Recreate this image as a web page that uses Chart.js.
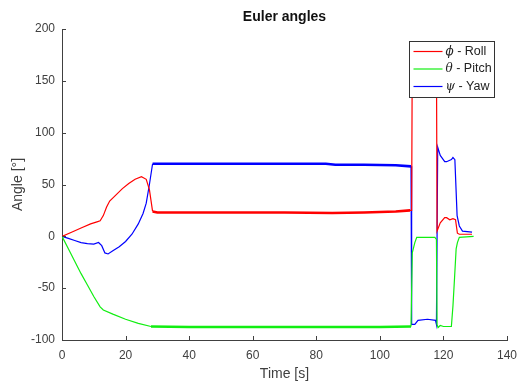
<!DOCTYPE html>
<html lang="en">

<head>
    <meta charset="UTF-8">
    <title>Euler angles</title>
    <style>
        body { margin: 0; background: #fff; }
        .chart-con { width: 517px; height: 383px; }
    </style>
</head>

<body>
    <div class="chart-con">
        <canvas id="euler" width="517" height="383"></canvas>
    </div>
    <script src="https://cdn.jsdelivr.net/npm/chart.js"></script>
    <script>
        // roll (phi)
        const rollTime = [0, 3, 6, 9, 11, 12, 13, 14, 15, 17, 19, 21, 23, 25, 26.5, 27.5, 28.5, 30, 50, 70, 85, 95, 100, 105, 109.5, 110, 110.2, 117.8, 118, 119, 120.4, 121, 122, 123, 123.8, 124.4, 125, 126, 129];
        const roll = [0, 4, 8, 12, 14, 15, 20, 28, 34, 40, 46, 51, 55, 57.5, 55, 45, 24, 23, 23, 23, 22.5, 23, 23.5, 24, 25, 25, 180, 180, 5, 13, 18, 18, 16, 17, 16, 3, 2, 2, 2];
        // pitch (theta)
        const pitchTime = [0, 2, 4, 6, 8, 10, 12, 13, 16, 20, 24, 28, 40, 60, 80, 100, 109.8, 110.2, 111, 111.6, 113, 117.3, 117.8, 118, 118.3, 119, 120, 122.5, 123, 123.5, 124, 124.4, 125, 129.5];
        const pitch = [0, -12, -24, -36, -47, -58, -68, -71, -75, -80, -84, -87, -87.5, -87.5, -87.5, -87.5, -87, -16, -6, -1, -1, -1, -3, -85, -88, -86, -87, -87, -67, -40, -12, -6, -1, 0];
        // yaw (psi)
        const yawTime = [0, 2, 4, 6, 8, 10, 11.5, 12.5, 13.5, 14.5, 16, 18, 20, 22, 24, 25.5, 26.5, 27.5, 28.5, 30, 50, 70, 83, 86, 95, 105, 109.8, 110, 111, 112, 115, 117.5, 117.8, 118.2, 119, 120.4, 121, 122.5, 123, 123.6, 124.3, 125, 126, 129];
        const yaw = [0, -2, -4, -6, -7, -7.5, -6, -9, -16, -17, -14, -10, -5, 2, 12, 22, 32, 50, 70, 70, 70, 70, 70, 69, 69, 68.5, 67.5, -85, -85, -81, -80, -81, -85, 86, 78, 72, 72, 74, 76, 74, 20, 10, 5, 4];

        const xTicks = [0, 20, 40, 60, 80, 100, 120, 140];
        const yTicks = [-100, -50, 0, 50, 100, 150, 200];

        const axisColor = '#404040';
        const toPts = (t, v) => t.map((x, i) => ({ x: x, y: v[i] }));
        // flat stretch is noisy in the original, draw it a bit thicker
        const segWidth = (ctx) => (ctx.p0.parsed.x >= 28 && ctx.p1.parsed.x <= 109.8) ? 2.6 : 1.2;

        // inward tick marks like matlab + legend box inside the plot
        const matlabBits = {
            id: 'matlabBits',
            afterDatasetsDraw(chart) {
                const c = chart.ctx;
                const xs = chart.scales.x, ys = chart.scales.y;
                const area = chart.chartArea;
                c.save();
                c.strokeStyle = axisColor;
                c.lineWidth = 1;
                c.beginPath();
                xTicks.forEach(v => {
                    const px = Math.round(xs.getPixelForValue(v)) + 0.5;
                    c.moveTo(px, area.bottom);
                    c.lineTo(px, area.bottom - 4);
                });
                yTicks.forEach(v => {
                    const py = Math.round(ys.getPixelForValue(v)) + 0.5;
                    c.moveTo(area.left, py);
                    c.lineTo(area.left + 4, py);
                });
                c.stroke();

                // legend
                const bx = 409.5, by = 41.5, bw = 85, bh = 56;
                c.fillStyle = '#fff';
                c.fillRect(bx, by, bw, bh);
                c.strokeStyle = '#333';
                c.strokeRect(bx, by, bw, bh);
                const sym = ['ϕ', 'θ', 'ψ'];
                const names = [' - Roll', ' - Pitch', ' - Yaw'];
                chart.data.datasets.forEach((ds, i) => {
                    const y = by + 10 + i * 17.5;
                    c.strokeStyle = ds.borderColor;
                    c.lineWidth = 1.2;
                    c.beginPath();
                    c.moveTo(bx + 4, y);
                    c.lineTo(bx + 33, y);
                    c.stroke();
                    c.fillStyle = '#222';
                    c.textBaseline = 'middle';
                    c.font = 'italic 12px "DejaVu Serif", serif';
                    c.fillText(sym[i], bx + 36, y);
                    const w = c.measureText(sym[i]).width;
                    c.font = '12.5px "Liberation Sans", Arial, sans-serif';
                    c.fillText(names[i], bx + 36 + w, y);
                });
                c.restore();
            }
        };

        const ctx = document.getElementById('euler');
        new Chart(ctx, {
            type: 'line',
            data: {
                datasets: [
                    {
                        label: 'ϕ - Roll',
                        data: toPts(rollTime, roll),
                        borderColor: '#ff0000'
                    },
                    {
                        label: 'θ - Pitch',
                        data: toPts(pitchTime, pitch),
                        borderColor: '#11ee11'
                    },
                    {
                        label: 'ψ - Yaw',
                        data: toPts(yawTime, yaw),
                        borderColor: '#0000ff'
                    }
                ].map(d => Object.assign(d, {
                    borderWidth: 1.2,
                    pointRadius: 0,
                    tension: 0,
                    segment: { borderWidth: segWidth }
                }))
            },
            plugins: [matlabBits],
            options: {
                responsive: false,
                animation: false,
                layout: {
                    padding: { left: 0, right: 0, top: 0, bottom: 0 }
                },
                plugins: {
                    legend: { display: false },
                    tooltip: { enabled: false },
                    title: {
                        display: true,
                        fullSize: false,
                        text: 'Euler angles',
                        color: '#111',
                        font: { size: 14, weight: 'bold', family: '"Liberation Sans", Arial, sans-serif' },
                        padding: { top: 9, bottom: 3.2 }
                    }
                },
                scales: {
                    x: {
                        type: 'linear',
                        min: 0,
                        max: 140,
                        afterFit: (s) => { s.height = 43; s.paddingRight = 10; s.paddingLeft = 0; },
                        afterBuildTicks: (s) => { s.ticks = xTicks.map(v => ({ value: v })); },
                        grid: { drawOnChartArea: false, drawTicks: false },
                        border: { color: axisColor, width: 1 },
                        ticks: {
                            color: axisColor,
                            padding: 8,
                            font: { size: 12, family: '"Liberation Sans", Arial, sans-serif' }
                        },
                        title: {
                            display: true,
                            text: 'Time [s]',
                            color: axisColor,
                            padding: { top: 0, bottom: 0 },
                            font: { size: 14, family: '"Liberation Sans", Arial, sans-serif' }
                        }
                    },
                    y: {
                        min: -100,
                        max: 200,
                        afterFit: (s) => { s.width = 62; },
                        afterBuildTicks: (s) => { s.ticks = yTicks.map(v => ({ value: v })); },
                        grid: { drawOnChartArea: false, drawTicks: false },
                        border: { color: axisColor, width: 1 },
                        ticks: {
                            color: axisColor,
                            padding: 7,
                            font: { size: 12, family: '"Liberation Sans", Arial, sans-serif' }
                        },
                        title: {
                            display: true,
                            text: 'Angle [°]',
                            color: axisColor,
                            padding: { top: 10, bottom: 0 },
                            font: { size: 14, family: '"Liberation Sans", Arial, sans-serif' }
                        }
                    }
                }
            }
        });
    </script>
</body>

</html>
